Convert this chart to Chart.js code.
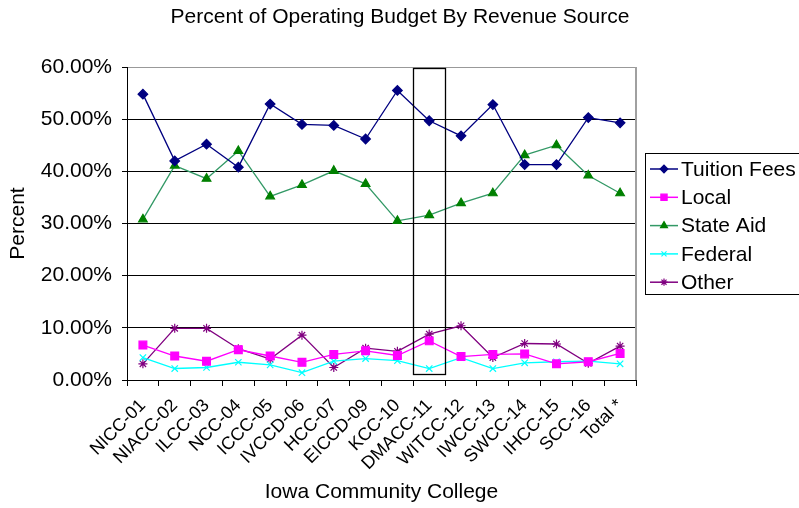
<!DOCTYPE html>
<html>
<head>
<meta charset="utf-8">
<title>Percent of Operating Budget By Revenue Source</title>
<script src="https://cdn.jsdelivr.net/npm/chart.js@4/dist/chart.umd.min.js"></script>
<style>
  html, body { margin: 0; padding: 0; background: #fff; }
  #wrap { width: 799px; height: 508px; }
</style>
</head>
<body>
<div id="wrap"><canvas id="budgetChart" width="799" height="508"></canvas></div>
<script>
// community colleges along the x axis
const colleges = ['NICC-01', 'NIACC-02', 'ILCC-03', 'NCC-04', 'ICCC-05', 'IVCCD-06', 'HCC-07', 'EICCD-09',
    'KCC-10', 'DMACC-11', 'WITCC-12', 'IWCC-13', 'SWCC-14', 'IHCC-15', 'SCC-16', 'Total *'];

// percent of operating budget, per revenue source
const tuitionFees = [54.8, 42.0, 45.2, 40.8, 52.9, 49.0, 48.8, 46.2, 55.5, 49.7, 46.8, 52.8, 41.3, 41.3, 50.3, 49.3];
const local = [6.7, 4.6, 3.6, 5.8, 4.6, 3.4, 4.9, 5.6, 4.7, 7.5, 4.5, 4.9, 5.0, 3.1, 3.5, 5.1];
const stateAid = [30.8, 41.1, 38.6, 43.9, 35.2, 37.4, 40.1, 37.6, 30.5, 31.6, 33.9, 35.8, 43.1, 45.0, 39.2, 35.8];
const federal = [4.3, 2.2, 2.4, 3.4, 2.9, 1.4, 3.6, 4.1, 3.7, 2.2, 4.3, 2.2, 3.3, 3.5, 3.6, 3.1];
const other = [3.1, 9.9, 9.9, 6.0, 4.0, 8.6, 2.4, 6.1, 5.5, 8.8, 10.4, 4.3, 7.0, 6.9, 3.2, 6.5];

const yTicks = [0, 10, 20, 30, 40, 50, 60];
const highlighted = 'DMACC-11';

const FONT = "'Liberation Sans', Arial, sans-serif";

function series(label, data, line, point, style, radius) {
    return {
        label: label,
        data: data,
        borderColor: line,
        backgroundColor: point,
        pointBackgroundColor: point,
        pointBorderColor: point,
        borderWidth: 1.3,
        pointStyle: style,
        pointRadius: radius,
        pointBorderWidth: 1.2,
        tension: 0
    };
}

const datasets = [
    series('Tuition Fees', tuitionFees, '#000080', '#000080', 'rectRot', 4.8),
    series('Local', local, '#ff00ff', '#ff00ff', 'rect', 5.5),
    series('State Aid', stateAid, '#339966', '#008000', 'triangle', 5),
    series('Federal', federal, '#00ffff', '#00ffff', 'crossRot', 4.5),
    series('Other', other, '#800080', '#800080', 'star', 4.5)
];

function drawMarker(ctx, ds, x, y) {
    ctx.save();
    ctx.strokeStyle = ds.borderColor;
    ctx.lineWidth = 1.5;
    ctx.beginPath();
    ctx.moveTo(x - 14, y);
    ctx.lineTo(x + 14, y);
    ctx.stroke();
    ctx.restore();
    ctx.save();
    ctx.fillStyle = ds.pointBackgroundColor;
    ctx.strokeStyle = ds.pointBorderColor;
    ctx.lineWidth = 1.2;
    Chart.helpers.drawPoint(ctx, { pointStyle: ds.pointStyle, radius: ds.pointRadius * 0.8, rotation: 0, borderWidth: 1.2 }, x, y);
    ctx.restore();
}

const decorations = {
    id: 'decorations',
    beforeDraw(chart) {
        const ctx = chart.ctx;
        ctx.save();
        ctx.fillStyle = '#fff';
        ctx.fillRect(0, 0, chart.width, chart.height);
        ctx.restore();
    },
    afterDraw(chart) {
        const ctx = chart.ctx;
        const area = chart.chartArea;
        const xs = chart.scales.x;
        const ys = chart.scales.y;
        ctx.save();

        // title
        ctx.fillStyle = '#000';
        ctx.font = '21px ' + FONT;
        ctx.textAlign = 'center';
        ctx.textBaseline = 'alphabetic';
        ctx.fillText('Percent of Operating Budget By Revenue Source', 400, 23);

        // right edge of the plot
        ctx.strokeStyle = '#a0a0a0';
        ctx.lineWidth = 2;
        ctx.beginPath();
        ctx.moveTo(area.right, area.top);
        ctx.lineTo(area.right, area.bottom);
        ctx.stroke();

        // box around the highlighted college
        const idx = colleges.indexOf(highlighted);
        const half = (xs.getPixelForValue(1) - xs.getPixelForValue(0)) / 2;
        const cx = xs.getPixelForValue(idx);
        const yTop = ys.getPixelForValue(60) + 1;
        const yBot = ys.getPixelForValue(1.2);
        ctx.strokeStyle = '#000';
        ctx.lineWidth = 1.3;
        ctx.strokeRect(Math.round(cx - half) + 0.5, Math.round(yTop) + 0.5, Math.round(half * 2), Math.round(yBot - yTop));

        // legend
        ctx.lineWidth = 1;
        ctx.strokeStyle = '#000';
        ctx.strokeRect(645.5, 153.5, 170, 141);
        ctx.font = '21px ' + FONT;
        ctx.textAlign = 'left';
        ctx.textBaseline = 'middle';
        chart.data.datasets.forEach(function (ds, i) {
            const y = 169 + i * 28.3;
            drawMarker(ctx, ds, 664, y);
            ctx.fillStyle = '#000';
            ctx.fillText(ds.label, 681, y + 1);
        });
        ctx.restore();
    }
};

const chart = new Chart(document.getElementById('budgetChart'), {
    type: 'line',
    data: { labels: colleges, datasets: datasets },
    plugins: [decorations],
    options: {
        responsive: false,
        animation: false,
        layout: { padding: { top: 67, right: 163, left: 0, bottom: 0 } },
        plugins: {
            legend: { display: false },
            title: { display: false },
            tooltip: { enabled: false }
        },
        scales: {
            x: {
                offset: true,
                afterFit: function (s) { s.height = 128; },
                grid: { drawOnChartArea: false, drawTicks: true, tickLength: 6, offset: true, color: '#000' },
                border: { color: '#000', width: 1 },
                ticks: {
                    color: '#000',
                    font: { family: FONT, size: 18 },
                    minRotation: 45,
                    maxRotation: 45,
                    autoSkip: false,
                    padding: 9
                },
                title: {
                    display: true,
                    text: 'Iowa Community College',
                    color: '#000',
                    font: { family: FONT, size: 21 },
                    padding: { top: 0, bottom: 3 }
                }
            },
            y: {
                min: 0,
                max: 60,
                afterFit: function (s) { s.width = 127; },
                afterBuildTicks: function (s) { s.ticks = yTicks.map(function (v) { return { value: v }; }); },
                grid: {
                    color: function (c) {
                        if (c.tick.value === 60) return '#999';
                        if (c.tick.value === 0) return 'rgba(0,0,0,0)';
                        return '#000';
                    },
                    tickColor: '#000',
                    tickLength: 5
                },
                border: { color: '#000', width: 1 },
                ticks: {
                    color: '#000',
                    font: { family: FONT, size: 21 },
                    padding: 10,
                    callback: function (v) { return v.toFixed(2) + '%'; }
                },
                title: {
                    display: true,
                    text: 'Percent',
                    color: '#000',
                    font: { family: FONT, size: 21 },
                    padding: { top: 6, bottom: 0 }
                }
            }
        }
    }
});
</script>
</body>
</html>
